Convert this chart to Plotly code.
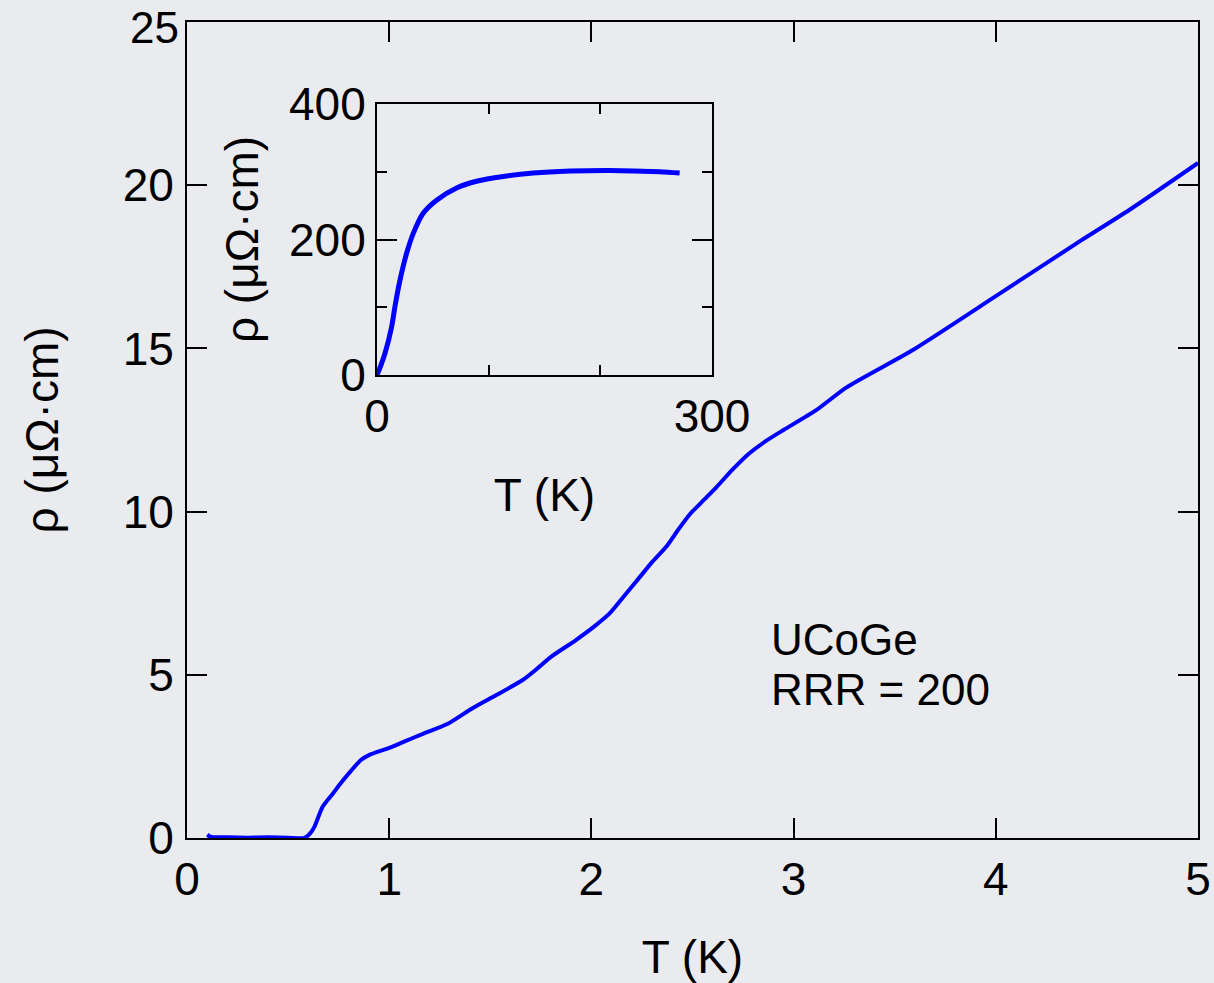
import plotly.graph_objects as go

# Main panel: resistivity of UCoGe at low temperature
T_main = [0.10, 0.12, 0.2, 0.3, 0.4, 0.5, 0.58, 0.61, 0.63, 0.67, 0.72, 0.76, 0.81, 0.86, 0.90,
          1.0, 1.08, 1.17, 1.29, 1.41, 1.53, 1.66, 1.73, 1.80, 1.92, 2.01, 2.09, 2.16, 2.24, 2.30, 2.37,
          2.43, 2.49, 2.56, 2.62, 2.70, 2.78, 2.86, 2.95, 3.11, 3.26, 3.59, 4.0, 4.42, 4.66, 5.0]
rho_main = [0.10, 0.03, 0.02, 0.01, 0.02, 0.01, 0.0, 0.15, 0.34, 0.95, 1.35, 1.68, 2.05, 2.39, 2.54,
            2.76, 2.97, 3.2, 3.5, 3.97, 4.38, 4.84, 5.18, 5.55, 6.05, 6.46, 6.88, 7.4, 8.0, 8.45, 8.92,
            9.45, 9.94, 10.38, 10.76, 11.3, 11.78, 12.15, 12.5, 13.1, 13.8, 14.95, 16.6, 18.3, 19.24, 20.68]

# Inset: full temperature range
T_inset = [0, 3, 7.2, 13.1, 16.1, 20.6, 26.6, 32.5, 41.5, 53.4, 71.3, 89.2, 113, 140, 173, 208, 253, 271]
rho_inset = [0, 12, 32, 71, 101, 140, 180, 209, 239, 258, 276, 286, 293, 298, 301, 302, 300, 298]

main_xticks = [0, 1, 2, 3, 4, 5]
main_yticks = [0, 5, 10, 15, 20, 25]
main_ylabels = ["0", "5", "10", "15", "20", ""]  # top label "25" drawn below so it stays on the page
top_ylabel = "25"

FONT = "Liberation Sans, Arial, Helvetica, sans-serif"
BG = "#eaebef"
BLUE = "#0000ff"
FS = 46

fig = go.Figure()
fig.add_trace(go.Scatter(x=T_main, y=rho_main, mode="lines",
                         line=dict(color=BLUE, width=4, shape="spline", smoothing=0.6),
                         xaxis="x", yaxis="y", showlegend=False, hoverinfo="skip"))
fig.add_trace(go.Scatter(x=T_inset, y=rho_inset, mode="lines",
                         line=dict(color=BLUE, width=5, shape="spline", smoothing=0.8),
                         xaxis="x2", yaxis="y2", showlegend=False, hoverinfo="skip"))

axis_common = dict(showline=True, linecolor="black", linewidth=2, mirror="ticks",
                   ticks="inside", tickcolor="black", tickwidth=2, showgrid=False,
                   zeroline=False, automargin=False, ticklabeloverflow="allow",
                   tickfont=dict(family=FONT, size=FS, color="black"))
title_font = dict(family=FONT, size=FS, color="black")

fig.update_layout(
    width=1214, height=983,
    paper_bgcolor=BG, plot_bgcolor=BG,
    margin=dict(l=187, r=16, t=22, b=145, autoexpand=False),
    xaxis=dict(**axis_common, range=[0, 5], tickvals=main_xticks, ticklen=20,
               domain=[0, 1], anchor="y",
               title=dict(text="T (K)", font=title_font, standoff=38)),
    yaxis=dict(**axis_common, range=[0, 25], tickvals=main_yticks, ticktext=main_ylabels,
               ticklen=20, domain=[0, 1], anchor="x", ticklabelstandoff=2,
               title=dict(text="ρ (μΩ·cm)", font=title_font, standoff=50)),
    xaxis2=dict(**axis_common, range=[0, 300], tickvals=[0, 300], ticklen=10,
                minor=dict(tickvals=[100, 200], ticklen=10, tickwidth=2, tickcolor="black", ticks="inside"),
                domain=[0.1879, 0.5193], anchor="y2",
                title=dict(text="T (K)", font=title_font, standoff=38)),
    yaxis2=dict(**axis_common, range=[0, 400], tickvals=[0, 200, 400], ticklen=20,
                minor=dict(tickvals=[100, 300], ticklen=10, tickwidth=2, tickcolor="black", ticks="inside"),
                domain=[0.5674, 0.8995], anchor="x2", ticklabelstandoff=0,
                title=dict(text="ρ (μΩ·cm)", font=title_font, standoff=16)),
    annotations=[
        dict(text=top_ylabel, xref="paper", yref="paper", x=0, y=1, xanchor="right", yanchor="top",
             xshift=-6, yshift=21, showarrow=False,
             font=dict(family=FONT, size=44, color="black")),
        dict(text="UCoGe", xref="x", yref="y", x=2.88, y=6.07, xanchor="left", yanchor="middle",
             showarrow=False, font=dict(family=FONT, size=44, color="black")),
        dict(text="RRR = 200", xref="x", yref="y", x=2.88, y=4.56, xanchor="left", yanchor="middle",
             showarrow=False, font=dict(family=FONT, size=44, color="black")),
    ],
)

fig.write_html("out.html", config={"displayModeBar": False},
               post_script="document.body.style.margin='0';document.body.style.background='%s';" % BG)
